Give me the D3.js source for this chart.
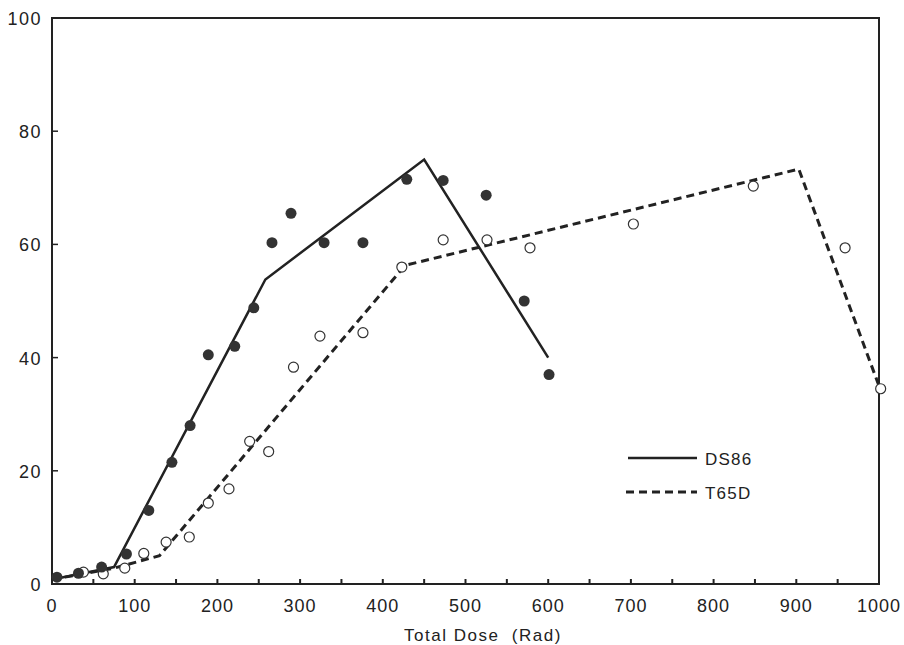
<!DOCTYPE html>
<html>
<head>
<meta charset="utf-8">
<script src="https://cdn.jsdelivr.net/npm/d3@7"></script>
<style>
  body { margin: 0; background: #fff; }
  text { font-family: "Liberation Sans", Arial, sans-serif; fill: #222; }
</style>
</head>
<body>
<svg id="chart"></svg>
<script>
// DS86 (filled circles) observations
var ds86Dose = [6, 32, 60, 90, 117, 145, 167, 189, 221, 244, 266, 289, 329, 376, 429, 473, 525, 571, 601]
var ds86Pct  = [1.2, 1.9, 3.0, 5.3, 13, 21.5, 28, 40.5, 42, 48.8, 60.3, 65.5, 60.3, 60.3, 71.5, 71.3, 68.7, 50, 37]
// T65D (open circles) observations
var t65Dose = [38, 62, 88, 111, 138, 166, 189, 214, 239, 262, 292, 324, 376, 423, 473, 526, 578, 703, 848, 959, 1002]
var t65Pct  = [2.1, 1.8, 2.8, 5.4, 7.4, 8.3, 14.3, 16.8, 25.2, 23.4, 38.3, 43.8, 44.4, 56, 60.8, 60.8, 59.4, 63.6, 70.3, 59.4, 34.5]
// fitted lines
var ds86LineDose = [0, 75, 258, 450, 600]
var ds86LinePct  = [0.8, 3, 53.8, 75, 40]
var t65LineDose = [0, 75, 130, 427, 903, 1000]
var t65LinePct  = [0.8, 2.8, 5, 56.3, 73.3, 35]

var xTicks = [0, 100, 200, 300, 400, 500, 600, 700, 800, 900, 1000]
var yTicks = [0, 20, 40, 60, 80, 100]
var xMinor = d3.range(0, 1001, 50)

var initGraph = function(target)
{
    var screen = {width: 904, height: 645}
    var svg = d3.select(target)
        .attr("width", screen.width)
        .attr("height", screen.height)

    var xScale = d3.scaleLinear()
        .domain([0, 1000])
        .range([52, 879])
    var yScale = d3.scaleLinear()
        .domain([0, 100])
        .range([584, 18])

    var ink = "#222"

    // frame
    svg.append("rect")
        .attr("x", xScale(0))
        .attr("y", yScale(100))
        .attr("width", xScale(1000) - xScale(0))
        .attr("height", yScale(0) - yScale(100))
        .attr("fill", "none")
        .attr("stroke", ink)
        .attr("stroke-width", 2)

    // x ticks (inward, every 50)
    svg.append("g")
        .selectAll("line")
        .data(xMinor.slice(1, -1))
        .enter()
        .append("line")
        .attr("x1", function(d) { return xScale(d) })
        .attr("x2", function(d) { return xScale(d) })
        .attr("y1", yScale(0))
        .attr("y2", yScale(0) - 5)
        .attr("stroke", ink)
        .attr("stroke-width", 2)

    // y ticks (inward)
    svg.append("g")
        .selectAll("line")
        .data(yTicks.slice(1, -1))
        .enter()
        .append("line")
        .attr("x1", xScale(0))
        .attr("x2", xScale(0) + 6)
        .attr("y1", function(d) { return yScale(d) })
        .attr("y2", function(d) { return yScale(d) })
        .attr("stroke", ink)
        .attr("stroke-width", 1.5)

    svg.append("g")
        .selectAll("text")
        .data(xTicks)
        .enter()
        .append("text")
        .attr("x", function(d) { return xScale(d) })
        .attr("y", yScale(0) + 28)
        .attr("text-anchor", "middle")
        .style("font-size", "18px")
        .style("letter-spacing", "1px")
        .text(function(d) { return d })

    svg.append("g")
        .selectAll("text")
        .data(yTicks)
        .enter()
        .append("text")
        .attr("x", 42)
        .attr("y", function(d) { return yScale(d) + 7 })
        .attr("text-anchor", "end")
        .style("font-size", "18px")
        .style("letter-spacing", "1.5px")
        .text(function(d) { return d })

    svg.append("text")
        .attr("x", 483)
        .attr("y", 641)
        .attr("text-anchor", "middle")
        .style("font-size", "17px")
        .style("letter-spacing", "1.5px")
        .style("white-space", "pre")
        .text("Total Dose  (Rad)")

    var line = d3.line()
        .x(function(d) { return xScale(d[0]) })
        .y(function(d) { return yScale(d[1]) })

    svg.append("path")
        .datum(d3.zip(ds86LineDose, ds86LinePct))
        .attr("d", line)
        .attr("fill", "none")
        .attr("stroke", ink)
        .attr("stroke-width", 2.5)

    svg.append("path")
        .datum(d3.zip(t65LineDose, t65LinePct))
        .attr("d", line)
        .attr("fill", "none")
        .attr("stroke", ink)
        .attr("stroke-width", 3)
        .attr("stroke-dasharray", "8,5")

    svg.append("g")
        .selectAll("circle")
        .data(d3.zip(t65Dose, t65Pct))
        .enter()
        .append("circle")
        .attr("cx", function(d) { return xScale(d[0]) })
        .attr("cy", function(d) { return yScale(d[1]) })
        .attr("r", 5)
        .attr("fill", "#fff")
        .attr("stroke", "#333")
        .attr("stroke-width", 1.2)

    svg.append("g")
        .selectAll("circle")
        .data(d3.zip(ds86Dose, ds86Pct))
        .enter()
        .append("circle")
        .attr("cx", function(d) { return xScale(d[0]) })
        .attr("cy", function(d) { return yScale(d[1]) })
        .attr("r", 5.5)
        .attr("fill", "#333")

    // legend
    var legend = svg.append("g")
    legend.append("line")
        .attr("x1", 628).attr("x2", 697)
        .attr("y1", 458).attr("y2", 458)
        .attr("stroke", ink).attr("stroke-width", 2.5)
    legend.append("text")
        .attr("x", 705).attr("y", 465)
        .style("font-size", "17px")
        .style("letter-spacing", "1.2px")
        .text("DS86")
    legend.append("line")
        .attr("x1", 626).attr("x2", 697)
        .attr("y1", 492).attr("y2", 492)
        .attr("stroke", ink).attr("stroke-width", 3)
        .attr("stroke-dasharray", "8,5")
    legend.append("text")
        .attr("x", 705).attr("y", 499)
        .style("font-size", "17px")
        .style("letter-spacing", "1.2px")
        .text("T65D")
}

initGraph("#chart")
</script>
</body>
</html>
